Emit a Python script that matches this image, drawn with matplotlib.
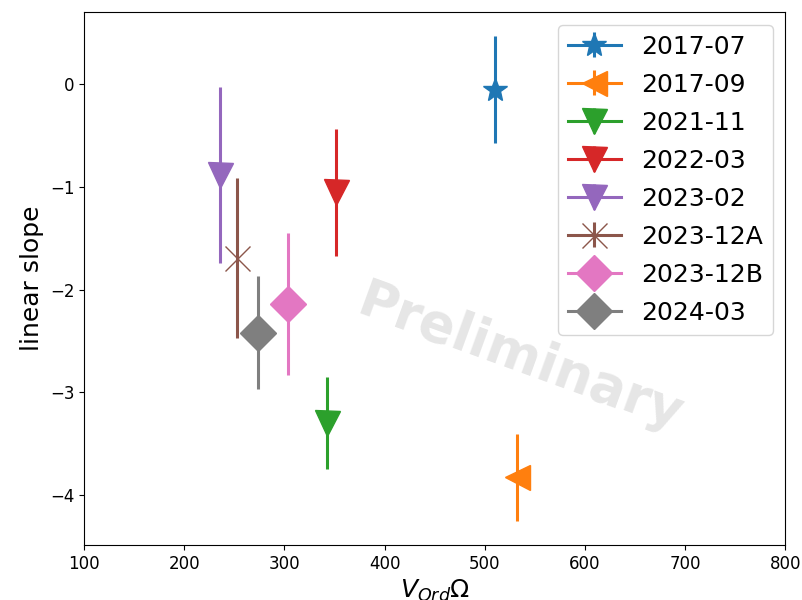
import matplotlib
matplotlib.use('Agg')
import matplotlib.pyplot as plt

labels = ['2017-07', '2017-09', '2021-11', '2022-03', '2023-02', '2023-12A', '2023-12B', '2024-03']
v_ord_omega = [510, 532, 342, 351, 236, 253, 304, 274]
slopes = [-0.05, -3.83, -3.30, -1.05, -0.88, -1.69, -2.14, -2.42]
slope_errs = [0.52, 0.42, 0.45, 0.62, 0.86, 0.78, 0.69, 0.55]
markers = ['*', '<', 'v', 'v', 'v', 'x', 'D', 'D']

fig, ax = plt.subplots(figsize=(8.02, 6.0), dpi=100)
fig.subplots_adjust(left=0.105, right=0.979, bottom=0.092, top=0.98)

for lab, x, y, err, m in zip(labels, v_ord_omega, slopes, slope_errs, markers):
    ax.errorbar([x], [y], yerr=[err], marker=m, markersize=18, lw=2.2,
                elinewidth=2.2, label=lab)

ax.set_xlim(100, 800)
ax.set_xlabel(r'$V_{Ord}\Omega$', fontsize=18)
ax.set_ylabel('linear slope', fontsize=18)
ax.tick_params(labelsize=12)
ax.legend(loc='upper right', fontsize=18, handlelength=2.1, labelspacing=0.56)

ax.text(0.622, 0.351, 'Preliminary', transform=ax.transAxes, fontsize=38,
        fontweight='bold', color='gray', alpha=0.2, rotation=-20,
        ha='center', va='center')

fig.savefig('out.png', dpi=100)
